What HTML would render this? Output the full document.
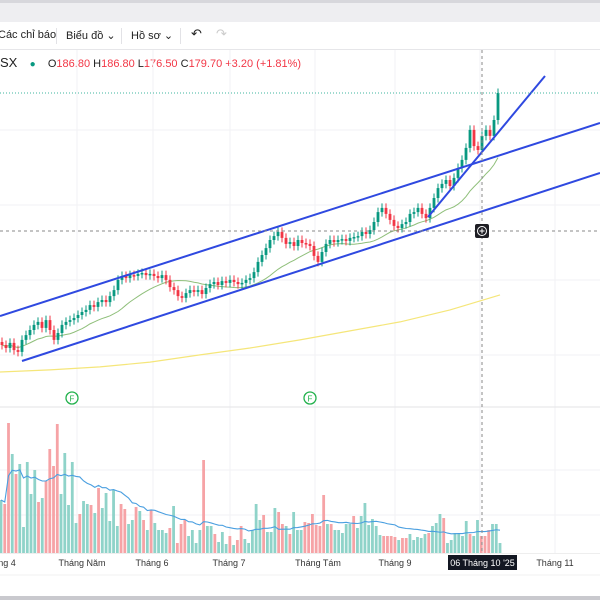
<!DOCTYPE html>
<html><head><meta charset="utf-8">
<style>
html,body{margin:0;padding:0;background:#fff;}
body{width:600px;height:600px;overflow:hidden;position:relative;font-family:"Liberation Sans","DejaVu Sans",sans-serif;}
.tb{position:absolute;top:0;left:0;width:600px;height:22px;background:#eeeef1;border-top:3px solid #d7d7dc;box-sizing:border-box;}
.toolbar{position:absolute;top:22px;left:0;width:600px;height:27px;background:#fff;border-bottom:1px solid #e6e6e9;font-size:11px;color:#222;}
.toolbar span{position:absolute;top:7px;}
.sep{position:absolute;top:6px;width:1px;height:16px;background:#e2e2e6;}
.legend{position:absolute;top:55px;left:0;font-size:11px;color:#f23645;white-space:nowrap;}
.legend b{font-weight:normal;color:#222;}
.botbar{position:absolute;left:0;top:596px;width:600px;height:4px;background:#c9c9ce;}
</style></head>
<body>
<div class="tb"></div>
<div class="toolbar">
  <span style="left:-2px">Các chỉ báo</span>
  <div class="sep" style="left:56px"></div>
  <span style="left:66px">Biểu đồ &#8964;</span>
  <div class="sep" style="left:121px"></div>
  <span style="left:131px">Hồ sơ &#8964;</span>
  <div class="sep" style="left:180px"></div>
  <span style="left:191px;font-size:13px;top:4px">&#8630;</span>
  <span style="left:216px;font-size:13px;top:4px;color:#ccc">&#8631;</span>
</div>
<div class="legend"><b style="font-size:13px">SX</b>&nbsp;&nbsp;&nbsp;&nbsp;<span style="color:#089981;font-size:10px">&#9679;</span>&nbsp;&nbsp;&nbsp;&nbsp;<b>O</b>186.80 <b>H</b>186.80 <b>L</b>176.50 <b>C</b>179.70 +3.20 (+1.81%)</div>
<svg id="chart" width="600" height="600" style="position:absolute;left:0;top:0"></svg>
<div class="botbar"></div>
<script>
const closes=[95,94,95.7,93.3,92.7,96.7,98.3,100,101.7,102.7,100.7,103.3,100,96.7,99,101.7,102.7,103.3,104,105,106,106.7,108.3,107.7,109.3,110,109.3,111.3,113.3,116.7,118,117.3,118.3,118,118.7,119,118.3,118.7,118,117.3,118.3,116.7,114.3,113.3,111.3,110.7,112.3,113.3,112.7,113.3,112,114,115.3,116,115,116.3,115.7,116.7,116,115.3,115.7,116.7,117.3,119.3,122.7,125,127.3,130,131.3,132.7,130.7,128.7,129.3,128,130,129,128.7,128,124.7,122.7,126,128.7,130,129.3,130,130.3,129.7,130.7,131,131.3,132.7,132,133.3,136,139.3,140.7,138.7,136.7,134.7,134,135.3,136,138.7,139.3,140.7,138.7,137.3,140.7,144,147.3,148.7,150,148,150.7,154,156.7,160.7,166.7,161.3,160,164.7,166.7,164.7,170,179];
const volumes=[53,49,130,99,79,89,26,91,59,83,51,55,72,104,87,129,59,100,48,91,30,39,52,49,48,40,65,45,60,32,63,27,49,44,29,33,46,42,33,23,43,30,23,23,20,25,47,10,29,33,17,23,10,23,93,27,27,19,11,21,9,17,8,13,27,14,10,23,49,33,38,21,21,45,41,29,27,19,41,23,23,31,30,39,28,27,58,29,29,23,23,20,29,29,37,25,37,50,28,34,27,18,17,17,17,16,13,15,15,19,13,16,15,19,20,27,30,39,35,10,13,20,19,17,32,19,17,33,17,17,23,29,29,10];
const volUp=[1,0,0,1,0,1,1,1,1,1,0,1,0,0,0,0,1,1,1,1,1,0,1,1,0,1,0,1,1,1,1,1,0,0,1,1,0,1,0,1,0,1,1,1,1,0,1,0,0,0,1,1,1,1,0,1,1,0,1,1,1,0,1,0,0,1,1,1,1,1,0,1,1,1,0,0,1,0,1,1,1,0,0,0,0,0,0,1,0,1,1,1,1,1,0,1,1,1,1,1,1,1,0,0,0,0,1,0,0,1,1,1,1,1,0,1,1,1,0,1,1,1,1,1,1,0,1,1,0,0,0,1,1,1];
const longMA=[86,86.7,87.7,89.3,91.7,94,96.7,99.7,102.7,106.7,111.7];
const xLabels=["ng 4","Tháng Năm","Tháng 6","Tháng 7","Tháng Tám","Tháng 9","Tháng 11"];
const xLabelPos=[7,82,152,229,318,395,555];

const svg=document.getElementById('chart');
const NS='http://www.w3.org/2000/svg';
function mk(t,a,p){const e=document.createElementNS(NS,t);for(const k in a)e.setAttribute(k,a[k]);(p||svg).appendChild(e);return e;}
const yP=p=>630-3*p;
const yV=v=>553-v;
const xC=i=>2+i*(496/(closes.length-1));
const xV=i=>1+i*(499/(volumes.length-1));

[77,153,230,315,395,480,555].forEach(x=>{const g=mk('line',{x1:x,x2:x,y1:50,y2:553,stroke:'#f2f2f4'});});
[130,205,280,355,470,515].forEach(y=>{const g=mk('line',{x1:0,x2:600,y1:y,y2:y,stroke:'#f2f2f4'});});
const sepl=mk('line',{x1:0,x2:600,y1:407,y2:407,stroke:'#e3e3e6'});



volumes.forEach((v,i)=>{const r=mk('rect',{x:xV(i)-1.4,y:yV(v),width:2.8,height:v,fill:volUp[i]?'#8fd3c9':'#f6a3a6'});

});
let vp=[];volumes.forEach((v,i)=>{const s=volumes.slice(Math.max(0,i-19),i+1);vp.push(xV(i)+','+yV(s.reduce((a,b)=>a+b,0)/s.length));});
const vma=mk('polyline',{points:vp.join(' '),fill:'none',stroke:'#4a9fe0','stroke-width':1.1});



const lp=longMA.map((p,i)=>(i*50)+','+yP(p)).join(' ');
const lma=mk('polyline',{points:lp,fill:'none',stroke:'#f5e67a','stroke-width':1.2});



let sp=[];closes.forEach((c,i)=>{const s=closes.slice(Math.max(0,i-17),i+1);sp.push(xC(i)+','+yP(s.reduce((a,b)=>a+b,0)/s.length));});
const sma=mk('polyline',{points:sp.join(' '),fill:'none',stroke:'#8fbf7a','stroke-width':1});



closes.forEach((c,i)=>{const o=i?closes[i-1]:c+1;const up=c>=o;const col=up?'#089981':'#f23645';
const hi=Math.max(o,c)+1.5,lo=Math.min(o,c)-1.5,x=xC(i);
const w=mk('line',{x1:x,x2:x,y1:yP(hi),y2:yP(lo),stroke:col,'stroke-width':1});


const top=yP(Math.max(o,c)),h=Math.max(1.5,Math.abs(yP(o)-yP(c)));
const b=mk('rect',{x:x-1.4,y:top,width:2.8,height:h,fill:col});

});

const ch=[[0,316,600,123],[22,361,600,173],[428,217,545,76]];
ch.forEach(l=>{const e=mk('line',{x1:l[0],y1:l[1],x2:l[2],y2:l[3],stroke:'#2f49e0','stroke-width':2});

});

const lpl=mk('line',{x1:0,x2:600,y1:yP(closes[closes.length-1]),y2:yP(closes[closes.length-1]),stroke:'#3fb59f','stroke-dasharray':'1 2','stroke-width':1});



const cv=mk('line',{x1:482,x2:482,y1:50,y2:553,stroke:'#888','stroke-dasharray':'3 3'});


const chh=mk('line',{x1:0,x2:600,y1:231,y2:231,stroke:'#888','stroke-dasharray':'3 3'});


const cb=mk('rect',{x:475,y:224,width:14,height:14,rx:2,fill:'#1e1e24'});


mk('circle',{cx:482,cy:231,r:4.5,fill:'none',stroke:'#fff','stroke-width':1});
mk('line',{x1:479.5,x2:484.5,y1:231,y2:231,stroke:'#fff'});
mk('line',{x1:482,x2:482,y1:228.5,y2:233.5,stroke:'#fff'});

[72,310].forEach(x=>{const c=mk('circle',{cx:x,cy:398,r:6,fill:'#fff',stroke:'#22b14c','stroke-width':1.3});


const t=mk('text',{x:x,y:401.5,'text-anchor':'middle','font-size':8,fill:'#22b14c','font-family':'Liberation Sans, sans-serif'});t.textContent='F';});

const ax=mk('line',{x1:0,x2:600,y1:553.5,y2:553.5,stroke:'#eee'});


xLabels.forEach((s,i)=>{const t=mk('text',{x:xLabelPos[i],y:566,'text-anchor':'middle','font-size':9,fill:'#333','font-family':'Liberation Sans, sans-serif'});t.textContent=s;

});
const db=mk('rect',{x:448,y:555,width:69,height:15,fill:'#131722'});


const dt=mk('text',{x:482.5,y:566,'text-anchor':'middle','font-size':9,fill:'#fff','font-family':'Liberation Sans, sans-serif'});dt.textContent="06 Tháng 10 '25";
const bl=mk('line',{x1:0,x2:600,y1:575,y2:575,stroke:'#f0f0f2'});


</script>
</body></html>
